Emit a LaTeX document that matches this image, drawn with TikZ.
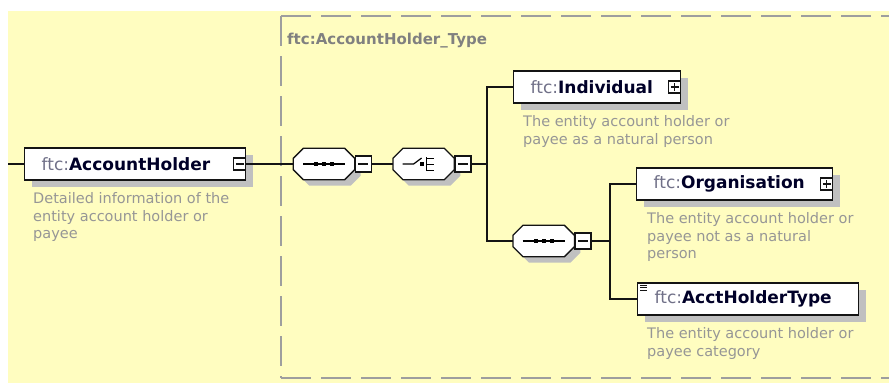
\documentclass[tikz,border=0pt]{standalone}
\usepackage{fontspec}
\setmainfont{DejaVu Sans}
\usepackage{xcolor}
\definecolor{colorBack}{RGB}{255,253,192}
\definecolor{colorFrame}{RGB}{158,158,158}
\definecolor{colorTitle}{RGB}{128,128,128}
\definecolor{colorPrefix}{RGB}{112,112,136}
\definecolor{colorName}{RGB}{0,0,40}
\definecolor{colorDesc}{RGB}{150,150,150}
\definecolor{colorShadow}{RGB}{192,192,192}
\definecolor{colorLine}{RGB}{20,20,20}
\usetikzlibrary{positioning, shadows}
\newcommand{\elname}[1]{{\color{colorPrefix}ftc:}{\color{colorName}\bfseries #1}}
% octagon round a compositor slot
\newcommand{\octpath}[1]{([xshift=10pt]#1.north west) -- ([xshift=-10pt]#1.north east) -- ([yshift=-10pt]#1.north east)
  -- ([yshift=10pt]#1.south east) -- ([xshift=-10pt]#1.south east) -- ([xshift=10pt]#1.south west)
  -- ([yshift=10pt]#1.south west) -- ([yshift=-10pt]#1.north west) -- cycle}
\newcommand{\octo}[1]{%
  \fill[colorShadow, transform canvas={xshift=6pt, yshift=-6pt}] \octpath{#1};
  \filldraw[fill=white, draw=colorLine, line width=1.3pt] \octpath{#1};}
\newcommand{\seqsym}[1]{%
  \draw[line width=1.2pt] ([xshift=-21pt]#1.center) -- ([xshift=21pt]#1.center);
  \foreach \dx in {-8,0,8}
    \fill ([shift={(\dx pt-2pt,-2pt)}]#1.center) rectangle ++(4pt,4pt);}
\newcommand{\choicesym}[1]{%
  \draw[line width=1.2pt] ([xshift=-21pt]#1.center) -- ([xshift=-10pt]#1.center) -- ([shift={(-2pt,6pt)}]#1.center);
  \draw[line width=1.2pt] ([shift={(3pt,-7pt)}]#1.center) -- ([shift={(3pt,7pt)}]#1.center);
  \foreach \dy in {-6,0,6}
    \draw[line width=1pt] ([shift={(3pt,\dy pt)}]#1.center) -- ([shift={(10pt,\dy pt)}]#1.center);
  \fill ([shift={(-4pt,-2pt)}]#1.center) rectangle ++(4pt,4pt);}
\tikzset{
  conn/.style={draw=colorLine, line width=1.3pt},
  frame/.style={draw=colorFrame, line width=1.8pt, dash pattern=on 30pt off 10pt},
  typetitle/.style={text=colorTitle, inner sep=0pt, font=\fontsize{15}{18}\selectfont\bfseries},
  elem/.style={rectangle, draw=colorLine, line width=1.3pt, fill=white, minimum height=32pt,
    inner xsep=17pt, inner ysep=0pt, align=left, font=\fontsize{17}{20}\selectfont,
    general shadow={fill=colorShadow, shadow xshift=7pt, shadow yshift=-7pt}},
  desc/.style={text=colorDesc, align=left, inner sep=0pt, font=\fontsize{14.5}{17.5}\selectfont},
  compslot/.style={rectangle, minimum width=61pt, minimum height=31pt, inner sep=0pt},
  compbtn/.style={rectangle, draw=colorLine, line width=1.2pt, fill=white, minimum size=16pt, inner sep=0pt,
    path picture={\draw[line width=1.1pt] ([xshift=-5pt]path picture bounding box.center) -- ([xshift=5pt]path picture bounding box.center);}},
  elbtn/.style={rectangle, draw=colorLine, line width=1.1pt, fill=white, minimum size=12pt, inner sep=0pt,
    path picture={\draw[line width=1.1pt] ([xshift=-4pt]path picture bounding box.center) -- ([xshift=4pt]path picture bounding box.center);}},
}

\begin{document}
\begin{tikzpicture}[x=1pt, y=-1pt]
\useasboundingbox (0,0) rectangle (889,383);
\fill[colorBack] (8,11) rectangle (889,383);

% complex type frame
\draw[frame] (281,16) -- (889,16);
\draw[frame] (281,16) -- (281,378);
\draw[frame] (281,378) -- (889,378);
\node[typetitle, anchor=west] (typ) at (287,41) {ftc:AccountHolder\_Type};

% root element
\node[elem, text width=187pt, anchor=west] (acc) at (24,164) {\elname{AccountHolder}};
\node[elbtn, anchor=east] (accm) at (acc.east) {};
\node[desc, below=12pt of acc.south west, anchor=north west, xshift=9pt] (accd) {Detailed information of the\\entity account holder or\\payee};

% compositors
\node[compslot, right=47pt of acc] (s1) {};
\octo{s1} \seqsym{s1}
\node[compbtn, right=0pt of s1] (s1m) {};
\node[compslot, right=21pt of s1m] (ch) {};
\octo{ch} \choicesym{ch}
\node[compbtn, right=0pt of ch] (chm) {};
\node[compslot, anchor=west] (s2) at (513,241) {};
\octo{s2} \seqsym{s2}
\node[compbtn, right=0pt of s2] (s2m) {};

% child elements
\node[elem, text width=133pt, anchor=west] (ind) at (513,87) {\elname{Individual}};
\node[elbtn, anchor=east] (indp) at (ind.east) {};
\draw[colorLine, line width=1.1pt] ([yshift=-4pt]indp.center) -- ([yshift=4pt]indp.center);
\node[desc, below=12pt of ind.south west, anchor=north west, xshift=10pt] (indd) {The entity account holder or\\payee as a natural person};

\node[elem, text width=162pt, anchor=west] (org) at (636,184) {\elname{Organisation}};
\node[elbtn, anchor=east] (orgp) at (org.east) {};
\draw[colorLine, line width=1.1pt] ([yshift=-4pt]orgp.center) -- ([yshift=4pt]orgp.center);
\node[desc, below=12pt of org.south west, anchor=north west, xshift=11pt] (orgd) {The entity account holder or\\payee not as a natural\\person};

\node[elem, text width=187pt, anchor=west] (aht) at (637,299) {\elname{AcctHolderType}};
\foreach \k in {0,2.5,5}
  \draw[colorLine, line width=0.8pt] ([shift={(3pt,-3pt-\k pt)}]aht.north west) -- ++(7,0);
\node[desc, below=12pt of aht.south west, anchor=north west, xshift=10pt] (ahtd) {The entity account holder or\\payee category};

% connectors
\coordinate (start) at (8,164);
\coordinate (j1) at (487,164);
\coordinate (j2) at (610,241);
\draw[conn] (start) -- (acc.west);
\draw[conn] (acc.east) -- (s1.west);
\draw[conn] (s1m.east) -- (ch.west);
\draw[conn] (chm.east) -- (j1);
\draw[conn] (ind.west) -| (j1) |- (s2.west);
\draw[conn] (s2m.east) -- (j2);
\draw[conn] (org.west) -| (j2) |- (aht.west);
\end{tikzpicture}
\end{document}
